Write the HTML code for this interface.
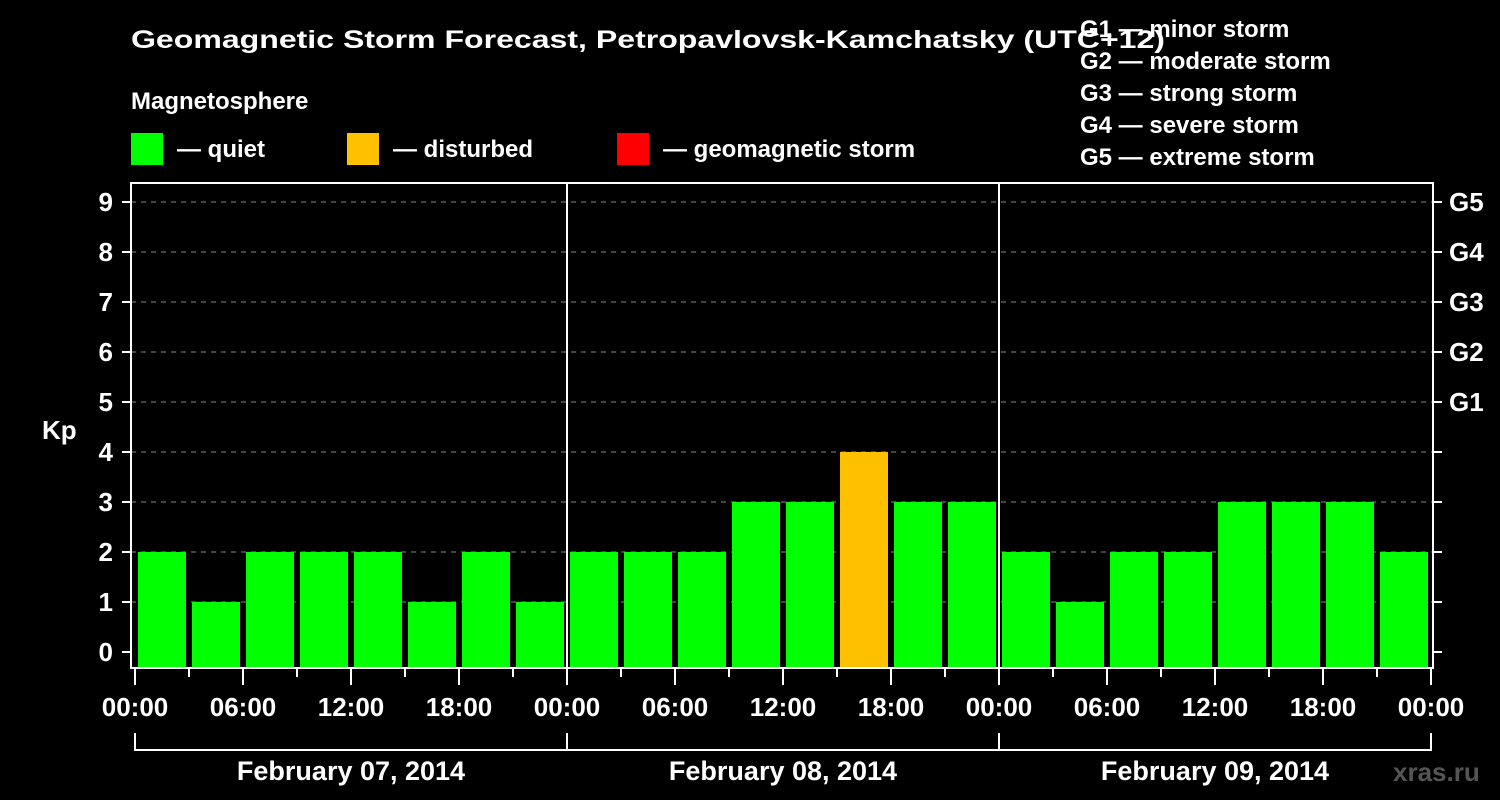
<!DOCTYPE html>
<html><head><meta charset="utf-8"><style>
html,body{margin:0;padding:0;background:#000;}
svg{display:block;font-family:"Liberation Sans",Arial,sans-serif;font-weight:bold;}
</style></head><body>
<svg id="chart" width="1500" height="800" viewBox="0 0 1500 800">
<rect width="1500" height="800" fill="#000"/>
<text x="131" y="48" fill="#fff" font-size="25" textLength="1034" lengthAdjust="spacingAndGlyphs">Geomagnetic Storm Forecast, Petropavlovsk-Kamchatsky (UTC+12)</text>
<text x="131" y="109" fill="#fff" font-size="24">Magnetosphere</text>
<g><rect x="131" y="133" width="32" height="32" fill="#00ff00"/><text x="177" y="157" fill="#fff" font-size="24">— quiet</text></g>
<g><rect x="347" y="133" width="32" height="32" fill="#ffc000"/><text x="393" y="157" fill="#fff" font-size="24">— disturbed</text></g>
<g><rect x="617" y="133" width="32" height="32" fill="#ff0000"/><text x="663" y="157" fill="#fff" font-size="24">— geomagnetic storm</text></g>
<g id="glegend" fill="#fff" font-size="24"></g>
<g id="grid"></g>
<g id="bars"></g>
<g id="axes"></g>
<text x="1393" y="781" fill="#555" font-size="26">xras.ru</text>
</svg>
<script>
const kpValues = [2,1,2,2,2,1,2,1, 2,2,2,3,3,4,3,3, 2,1,2,2,3,3,3,2];
const dayLabels = ["February 07, 2014","February 08, 2014","February 09, 2014"];
const hourLabels = ["00:00","06:00","12:00","18:00"];
const kpTicks = [0,1,2,3,4,5,6,7,8,9];
const gLabels = ["G1","G2","G3","G4","G5"];
const gLegend = ["G1 — minor storm","G2 — moderate storm","G3 — strong storm","G4 — severe storm","G5 — extreme storm"];

const NS="http://www.w3.org/2000/svg";
const L=131,R=1433,T=183,B=668;
const x0=135, slotW=54;
const xs=i=>x0+i*slotW;
const ys=v=>652-v*50;
function mk(tag,attrs,parent,txt){const e=document.createElementNS(NS,tag);for(const k in attrs)e.setAttribute(k,attrs[k]);if(txt!==undefined)e.textContent=txt;parent.appendChild(e);return e;}
const grid=document.getElementById('grid'),bars=document.getElementById('bars'),axes=document.getElementById('axes'),gl=document.getElementById('glegend');

gLegend.forEach((s,i)=>{const t=mk('text',{x:1080,y:37+i*32},gl,s);

});

kpTicks.forEach(v=>{
 if(v>0){const g=mk('line',{x1:L,x2:R,y1:ys(v),y2:ys(v),stroke:'#888','stroke-width':1,'stroke-dasharray':'5,5'},grid);
 
 }
 const tk=mk('line',{x1:122,x2:L,y1:ys(v),y2:ys(v),stroke:'#fff','stroke-width':2},axes);
 
 
 const rt=mk('line',{x1:R,x2:1442,y1:ys(v),y2:ys(v),stroke:'#fff','stroke-width':2},axes);
 
 
 const t=mk('text',{x:113,y:ys(v)+9,fill:'#fff','font-size':26,'text-anchor':'end'},axes,String(v));
 
 
});
gLabels.forEach((g,i)=>{const t=mk('text',{x:1449,y:ys(5+i)+9,fill:'#fff','font-size':26},axes,g);
 
 });
const kp=mk('text',{x:42,y:439,fill:'#fff','font-size':26},axes,'Kp');



kpValues.forEach((v,i)=>{
 const col=v>=5?'#ff0000':(v>=4?'#ffc000':'#00ff00');
 const r=mk('rect',{x:xs(i)+3,y:ys(v),width:48,height:B-ys(v),fill:col},bars);
 
 
});

const fr=mk('rect',{x:L,y:T,width:R-L,height:B-T,fill:'none',stroke:'#fff','stroke-width':2},axes);


const nd=dayLabels.length;
for(let d=1;d<nd;d++){const l=mk('line',{x1:xs(d*8),x2:xs(d*8),y1:T,y2:B,stroke:'#fff','stroke-width':2},axes);
 
 }
for(let i=0;i<=kpValues.length;i++){
 const major=i%2===0;
 const tk=mk('line',{x1:xs(i),x2:xs(i),y1:B,y2:major?685:677,stroke:'#fff','stroke-width':2},axes);
 
 
 if(major){const t=mk('text',{x:xs(i),y:716,fill:'#fff','font-size':26,'text-anchor':'middle'},axes,hourLabels[(i/2)%4]);
 
 }
}
const bl=mk('line',{x1:xs(0),x2:xs(kpValues.length),y1:750,y2:750,stroke:'#fff','stroke-width':2},axes);


for(let d=0;d<=nd;d++){const l=mk('line',{x1:xs(d*8),x2:xs(d*8),y1:733,y2:751,stroke:'#fff','stroke-width':2},axes);
 
 }
dayLabels.forEach((s,d)=>{const t=mk('text',{x:(xs(d*8)+xs(d*8+8))/2,y:780,fill:'#fff','font-size':27,'text-anchor':'middle'},axes,s);
 
 });
</script>
</body></html>
